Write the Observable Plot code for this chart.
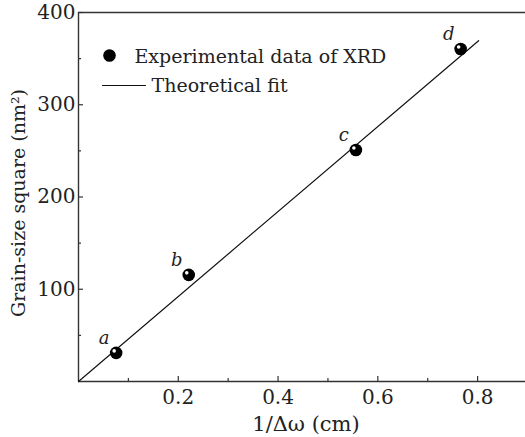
<!DOCTYPE html>
<html>
<head>
<meta charset="utf-8">
<script src="https://cdn.jsdelivr.net/npm/d3@7"></script>
<script src="https://cdn.jsdelivr.net/npm/@observablehq/plot@0.6"></script>
<style>
  html, body { margin: 0; padding: 0; background: #fff; overflow: hidden; }
</style>
</head>
<body>
<div id="chart"></div>
<script>
const xTicks = [0.2, 0.4, 0.6, 0.8];
const xMinor = [0.1, 0.3, 0.5, 0.7];
const yTicks = [100, 200, 300, 400];
const yMinor = [50, 150, 250, 350];

const pointX = [0.0755, 0.221, 0.556, 0.766];
const pointY = [31, 115.6, 251, 360.5];
const pointLabels = ["a", "b", "c", "d"];

const fitX = [0, 0.802];
const fitY = [0, 369.4];

const xLabel = "1/Δω (cm)";
const yLabel = "Grain-size square (nm²)";
const legendPoint = "Experimental data of XRD";
const legendLine = "Theoretical fit";

const points = pointX.map((x, i) => ({x, y: pointY[i], label: pointLabels[i]}));
const fit = fitX.map((x, i) => ({x, y: fitY[i]}));

const W = 525, H = 437, mL = 78, mR = 0, mT = 12, mB = 56;
const plotW = W - mL - mR, plotH = H - mT - mB;
const ink = "#222";
const font = "DejaVu Serif";

const lineShape = {
  draw(context, l) { context.moveTo(0, 0); context.lineTo(0, -l); }
};

const chart = Plot.plot({
  width: W,
  height: H,
  marginLeft: mL,
  marginRight: mR,
  marginTop: mT,
  marginBottom: mB,
  style: {fontFamily: font, fontSize: "19px", color: ink, background: "#fff"},
  x: {domain: [0, 0.896]},
  y: {domain: [0, 400]},
  marks: [
    // frame
    Plot.ruleY([0, 400], {stroke: "#333", strokeWidth: 1.4}),
    Plot.ruleX([0], {stroke: "#333", strokeWidth: 1.4}),
    // inward ticks
    Plot.ruleX(xTicks, {stroke: "#333", strokeWidth: 1.2, insetTop: plotH - 5}),
    Plot.ruleX(xMinor, {stroke: "#333", strokeWidth: 1.2, insetTop: plotH - 3}),
    Plot.ruleY(yTicks, {stroke: "#333", strokeWidth: 1.2, insetRight: plotW - 5}),
    Plot.ruleY(yMinor, {stroke: "#333", strokeWidth: 1.2, insetRight: plotW - 3}),
    // tick labels
    Plot.axisX({ticks: xTicks, tickSize: 0, tickPadding: 8, label: null, tickFormat: d3.format(".1f"), fill: ink, fontSize: 20}),
    Plot.axisY({ticks: yTicks, tickSize: 0, tickPadding: 3, label: null, fill: ink, fontSize: 20}),
    // axis labels
    Plot.text([xLabel], {frameAnchor: "bottom", text: d => d, textAnchor: "middle", dy: 49, dx: 4, fontSize: 21, fill: ink}),
    Plot.text([yLabel], {frameAnchor: "left", text: d => d, textAnchor: "middle", rotate: -90, dx: -60, dy: 6, fontSize: 19, fill: ink}),
    // fit line
    Plot.line(fit, {x: "x", y: "y", stroke: "#111", strokeWidth: 1.2}),
    // points
    Plot.dot(points, {x: "x", y: "y", r: 6.3, fill: "#000"}),
    Plot.dot(points, {x: "x", y: "y", r: 1.8, fill: "#fff", dx: -2, dy: -2}),
    Plot.text(points, {x: "x", y: "y", text: "label", dx: -12, dy: -15, fontStyle: "italic", fontSize: 18, fill: ink}),
    // legend
    Plot.dot([legendPoint], {frameAnchor: "top-left", dx: 31, dy: 43, r: 6.3, fill: "#000"}),
    Plot.text([legendPoint], {frameAnchor: "top-left", text: d => d, textAnchor: "start", dx: 56, dy: 37, fontSize: 19, fill: ink}),
    Plot.vector([legendLine], {frameAnchor: "top-left", dx: 24, dy: 73, length: 43, rotate: 90, anchor: "start", shape: lineShape, stroke: "#111", strokeWidth: 1.2}),
    Plot.text([legendLine], {frameAnchor: "top-left", text: d => d, textAnchor: "start", dx: 73, dy: 66, fontSize: 19, fill: ink})
  ]
});

document.getElementById("chart").appendChild(chart);
</script>
</body>
</html>
